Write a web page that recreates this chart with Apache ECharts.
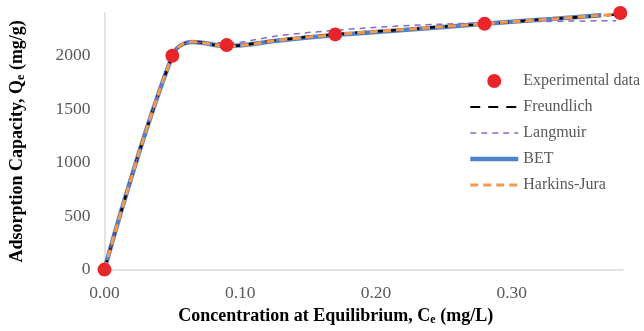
<!DOCTYPE html>
<html>
<head>
<meta charset="utf-8">
<script src="https://cdn.jsdelivr.net/npm/echarts@6/dist/echarts.min.js"></script>
<style>
  html, body { margin: 0; padding: 0; background: #fff; }
  #chart { width: 644px; height: 331px; }
</style>
</head>
<body>
<div id="chart"></div>
<script>
  // experimental points
  var expCe = [0, 0.05, 0.09, 0.17, 0.28, 0.38];
  var expQe = [0, 2000, 2100, 2200, 2300, 2400];

  // model curves
  var modelCe = [0, 0.05, 0.065, 0.09, 0.13, 0.17, 0.22, 0.28, 0.33, 0.377];
  var freundlichQe = [0, 2000, 2128, 2092, 2150, 2200, 2245, 2300, 2345, 2385];
  var langmuirQe = [0, 2000, 2125, 2122, 2190, 2238, 2280, 2308, 2322, 2328];
  var harkinsQe = [0, 2000, 2130, 2090, 2148, 2198, 2245, 2300, 2345, 2388];
  var betCe = [0, 0.05, 0.065, 0.09, 0.13, 0.17, 0.22, 0.28, 0.33, 0.366];
  var betQe = [0, 2000, 2128, 2092, 2145, 2195, 2240, 2300, 2345, 2378];

  var yTicks = [0, 500, 1000, 1500, 2000];

  function pairs(xs, ys) {
    return xs.map(function (x, i) { return [x, ys[i]]; });
  }

  var serif = 'Liberation Serif';
  var hidden = { opacity: 0 };
  var richName = {
    t: { fontFamily: serif, fontSize: 18, fontWeight: 'bold', color: '#000' },
    s: { fontFamily: serif, fontSize: 12, fontWeight: 'bold', color: '#000', verticalAlign: 'bottom', padding: [7, 0, 0, 0] }
  };

  var myChart = echarts.init(document.getElementById('chart'));
  myChart.setOption({
    animation: false,
    textStyle: { fontFamily: serif },
    grid: { left: 104, right: 21, top: 13, bottom: 58 },
    legend: {
      orient: 'vertical',
      left: 468,
      top: 73,
      padding: 0,
      itemWidth: 48,
      itemHeight: 14,
      itemGap: 10,
      textStyle: { fontFamily: serif, fontSize: 16, color: '#595959' },
      data: [
        { name: 'Experimental data' },
        { name: 'Freundlich', itemStyle: hidden },
        { name: 'Langmuir', itemStyle: hidden, lineStyle: { width: 1.5 } },
        { name: 'BET', itemStyle: hidden, lineStyle: { width: 4.5 } },
        { name: 'Harkins-Jura', itemStyle: hidden, lineStyle: { width: 3 } }
      ]
    },
    xAxis: {
      type: 'value',
      min: 0,
      max: 0.382,
      interval: 0.1,
      name: '{t|Concentration at Equilibrium, C}{s|e}{t| (mg/L)}',
      nameLocation: 'middle',
      nameGap: 36,
      nameTextStyle: { padding: [0, 56, 0, 0], rich: richName },
      axisLine: { lineStyle: { color: '#d9d9d9', width: 1.5 } },
      axisTick: { show: false },
      splitLine: { show: false },
      axisLabel: {
        showMaxLabel: false,
        margin: 15,
        fontFamily: serif, fontSize: 17.5, color: '#595959',
        formatter: function (v) { return v.toFixed(2); }
      }
    },
    yAxis: {
      type: 'value',
      min: 0,
      max: 2400,
      interval: 500,
      name: '{t|Adsorption Capacity, Q}{s|e}{t| (mg/g)}',
      nameLocation: 'middle',
      nameGap: 78,
      nameTextStyle: { rich: richName },
      axisLine: { show: true, lineStyle: { color: '#d9d9d9', width: 1.5 } },
      axisTick: { show: false },
      splitLine: { show: false },
      axisLabel: {
        margin: 14,
        fontFamily: serif, fontSize: 17.5, color: '#595959',
        formatter: function (v) { return yTicks.indexOf(v) >= 0 ? String(v) : ''; }
      }
    },
    series: [
      {
        name: 'BET',
        type: 'line',
        smooth: 0.4,
        symbol: 'none',
        lineStyle: { color: '#4f81c9', width: 4.5 },
        itemStyle: { color: '#4f81c9' },
        data: pairs(betCe, betQe)
      },
      {
        name: 'Freundlich',
        type: 'line',
        smooth: 0.4,
        symbol: 'none',
        lineStyle: { color: '#000', width: 2.5, type: [10, 8] },
        itemStyle: { color: '#000' },
        data: pairs(modelCe, freundlichQe)
      },
      {
        name: 'Langmuir',
        type: 'line',
        smooth: 0.4,
        symbol: 'none',
        lineStyle: { color: '#8a6bb8', width: 1.5, type: [6, 5] },
        itemStyle: { color: '#8a6bb8' },
        data: pairs(modelCe, langmuirQe)
      },
      {
        name: 'Harkins-Jura',
        type: 'line',
        smooth: 0.4,
        symbol: 'none',
        lineStyle: { color: '#f4994e', width: 3, type: [8, 5] },
        itemStyle: { color: '#f4994e' },
        data: pairs(modelCe, harkinsQe)
      },
      {
        name: 'Experimental data',
        type: 'scatter',
        symbol: 'circle',
        symbolSize: 14,
        itemStyle: { color: '#e8262a', opacity: 1 },
        data: pairs(expCe, expQe),
        z: 5
      }
    ]
  });
</script>
</body>
</html>
